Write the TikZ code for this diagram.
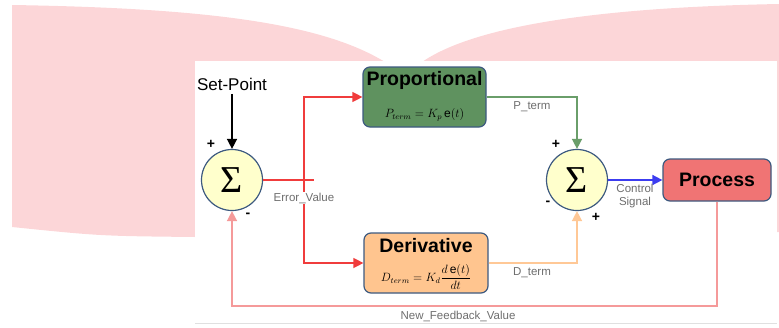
\documentclass[tikz,border=0pt]{standalone}
\usepackage{amsmath}
\usepackage{fontspec}
\setmainfont{Liberation Sans}
\setsansfont{Liberation Sans}
\newfontfamily\sigmafont{Liberation Serif}
\usetikzlibrary{arrows.meta,calc,positioning}
\definecolor{Blush}{HTML}{FCD6D8}
\definecolor{EdgeBlue}{HTML}{3D5A80}
\definecolor{SumFill}{HTML}{FFFFCC}
\definecolor{PropGreen}{HTML}{5F925F}
\definecolor{DerivPeach}{HTML}{FFC58F}
\definecolor{ProcRed}{HTML}{F07474}
\definecolor{ErrRed}{HTML}{F03C3C}
\definecolor{PLine}{HTML}{6A9E6A}
\definecolor{DLine}{HTML}{FFC896}
\definecolor{CtrlBlue}{HTML}{3C3CF0}
\definecolor{FbPink}{HTML}{F59A9A}
\definecolor{LabelGray}{HTML}{6E6E6E}
\begin{document}
\begin{tikzpicture}[x=1pt,y=-1pt,every node/.style={font=\sffamily,text=black},sumnode/.style={circle,draw=EdgeBlue,line width=1.2pt,fill=SumFill,minimum size=61,inner sep=0pt,font=\sigmafont\fontsize{38}{38}\selectfont},blockbox/.style={draw=EdgeBlue,line width=1.2pt,rounded corners=7pt},blocktitle/.style={font=\sffamily\bfseries\fontsize{19.5}{22}\selectfont},sign/.style={font=\sffamily\bfseries\fontsize{14}{14}\selectfont,inner sep=0pt},wirelabel/.style={font=\sffamily\fontsize{11.5}{13}\selectfont,text=LabelGray,align=center,inner sep=1pt},tip/.style={-{Triangle[length=10pt,width=10pt]},line width=1.5pt}]
\useasboundingbox (0,0) rectangle (779,327);
\fill[Blush] (12,5) .. controls (200,8) and (320,22) .. (385,62) -- (422,62) .. controls (480,22) and (620,7) .. (779,4) -- (779,232) -- (195,237) .. controls (100,236) .. (12,227) -- cycle;
\fill[white] (195,61) rectangle (777,323); \draw[black!12,line width=1pt] (195,323) -- (777,323);

\node[sumnode] (sumA) at (232,180) {Σ}; \node[sumnode] (sumB) at (577,180) {Σ};
\node[blockbox,fill=PropGreen,minimum width=123,minimum height=60] (prop) at (424.5,97) {};
\node[blockbox,fill=DerivPeach,minimum width=124,minimum height=60] (deriv) at (426,263) {};
\node[blockbox,fill=ProcRed,minimum width=108,minimum height=42] (proc) at (717,180) {};
\node[blocktitle] (propname) at (424.5,80) {Proportional}; \node[font=\fontsize{12}{14}\selectfont] (propeq) at (424.5,115) {$P_{term}=K_{p}\,\mathrm{e}(t)$};
\node[blocktitle] (derivname) at (426,246) {Derivative}; \node[font=\fontsize{12}{14}\selectfont] (deriveq) at (426,277) {$D_{term}=K_{d}\dfrac{d\,\mathrm{e}(t)}{dt}$};
\node[blocktitle] (procname) at (717,180) {Process};
\node[font=\sffamily\fontsize{17}{20}\selectfont] (setpt) at (232,84) {Set-Point};

\coordinate (split) at (304,180); \coordinate (errend) at (314,180); \coordinate (fbrow) at (0,306);
\draw[tip,black] (setpt) -- (sumA);
\draw[ErrRed,line width=1.5pt] (sumA) -- (errend);
\draw[tip,ErrRed,line width=1.3pt] (split) |- (prop); \draw[tip,ErrRed,line width=1.3pt] (split) |- (deriv);
\draw[tip,PLine] (prop) -| (sumB); \draw[tip,DLine] (deriv) -| (sumB);
\draw[tip,CtrlBlue] (sumB) -- (proc);
\draw[tip,FbPink] (proc.south) -- (proc.south |- fbrow) -| (sumA);

\node[wirelabel,fill=white] (errlbl) at (304,198) {Error\_Value};
\node[wirelabel] (plbl) at (532,107) {P\_term}; \node[wirelabel] (dlbl) at (532,273) {D\_term};
\node[wirelabel] (ctrllbl) at (635,196) {Control\\Signal}; \node[wirelabel] (fblbl) at (458,316) {New\_Feedback\_Value};
\node[sign] (plusA) at (211,144) {+}; \node[sign] (minusA) at (248,215) {-};
\node[sign] (plusB) at (556,144) {+}; \node[sign] (minusB) at (548,203) {-}; \node[sign] (plusC) at (596,217) {+};
\end{tikzpicture}
\end{document}
